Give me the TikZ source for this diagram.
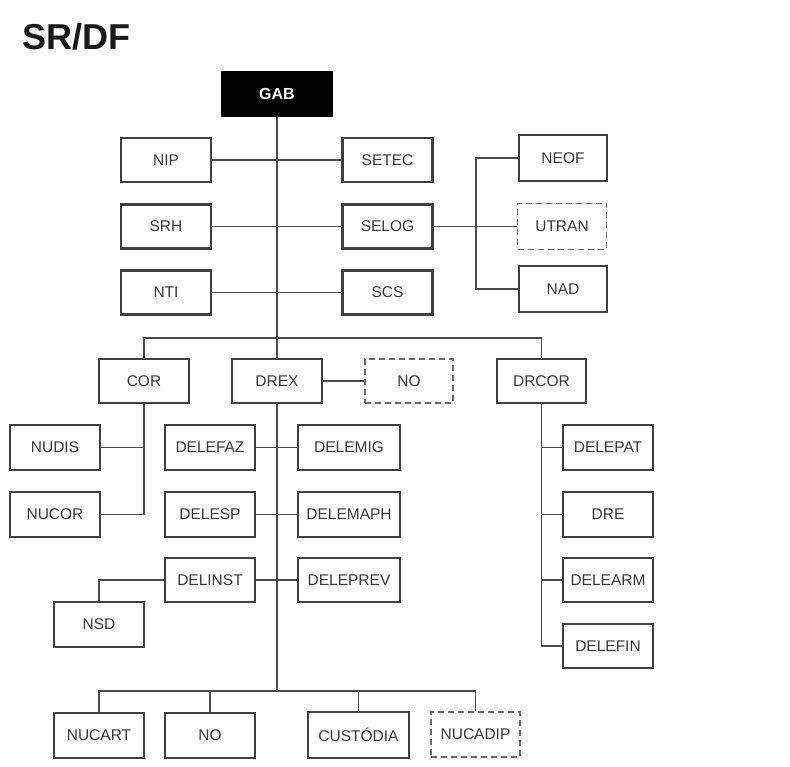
\documentclass[tikz,border=0pt]{standalone}
\usepackage{fontspec}
\setmainfont{Liberation Sans}
\definecolor{boxline}{HTML}{404040}
\definecolor{conn}{HTML}{4A4A4A}
\definecolor{txt}{HTML}{383838}
\definecolor{dashline}{HTML}{6A6A6A}
\begin{document}
\begin{tikzpicture}[x=1pt,y=-1pt,
  box/.style={draw=boxline,line width=2.6pt,fill=white,minimum width=90pt,minimum height=44pt,inner sep=0pt,
    text=txt,font=\fontsize{15.5}{16}\selectfont},
  wbox/.style={box,minimum width=102pt},
  dbox/.style={box,draw=dashline,line width=1.8pt,dash pattern=on 6pt off 4pt},
  topbox/.style={box,fill=black,draw=black,text=white,minimum width=110pt,font=\fontsize{16}{16}\selectfont\bfseries},
  conn/.style={draw=conn,line width=1.7pt}]
\useasboundingbox (0,0) rectangle (790,767);
\fill[white] (0,0) rectangle (790,767);
\node[anchor=base west,inner sep=0pt,text=black!90,font=\fontsize{36}{36}\selectfont\bfseries] (title) at (22,50) {SR/DF};
% nodes
\node[topbox] (gab) at (277,94) {GAB};
\node[box] (nip) at (166,160) {NIP};
\node[box] (setec) at (387.5,160) {SETEC};
\node[box] (srh) at (166,226.5) {SRH};
\node[box] (selog) at (387.5,226.5) {SELOG};
\node[box] (nti) at (166,292.5) {NTI};
\node[box] (scs) at (387.5,292.5) {SCS};
\node[box,minimum width=88pt,minimum height=46pt] (neof) at (563,158) {NEOF};
\node[dbox,minimum width=89pt,minimum height=46pt] (utran) at (562,226.5) {UTRAN};
\node[box,minimum width=88pt,minimum height=46pt] (nad) at (563,289) {NAD};
\node[box] (cor) at (144,381) {COR};
\node[box] (drex) at (277,381) {DREX};
\node[dbox,minimum width=88pt] (no1) at (409,381) {NO};
\node[box,minimum width=89pt] (drcor) at (541.5,381) {DRCOR};
\node[box,minimum height=45pt] (nudis) at (55,447.5) {NUDIS};
\node[box,minimum height=45pt] (nucor) at (55,514.5) {NUCOR};
\node[box,minimum height=45pt] (delefaz) at (210,447.5) {DELEFAZ};
\node[wbox,minimum height=45pt] (delemig) at (349,447.5) {DELEMIG};
\node[box,minimum height=45pt] (delesp) at (210,514.5) {DELESP};
\node[wbox,minimum height=45pt] (delemaph) at (349,514.5) {DELEMAPH};
\node[box] (delinst) at (210,580) {DELINST};
\node[wbox] (deleprev) at (349,580) {DELEPREV};
\node[box,minimum height=45pt] (nsd) at (99,624.5) {NSD};
\node[box,minimum height=45pt] (delepat) at (608,447.5) {DELEPAT};
\node[box,minimum height=45pt] (dre) at (608,514.5) {DRE};
\node[box] (delearm) at (608,580) {DELEARM};
\node[box] (delefin) at (608,646) {DELEFIN};
\node[box,minimum height=45pt] (nucart) at (99,735.5) {NUCART};
\node[box,minimum height=45pt] (no2) at (210,735.5) {NO};
\node[box,minimum width=101pt,minimum height=46pt] (cust) at (358.5,735) {CUSTÓDIA};
\node[dbox,minimum width=89pt,minimum height=45pt] (nucadip) at (475.5,734.5) {NUCADIP};
% helper coordinates
\coordinate (topbar) at (0,338);
\coordinate (rv) at (476,0);
\coordinate (bot) at (277,691);
% connectors
\draw[conn] (gab.south) -- (drex.north);
\draw[conn] (drex.south) -- (bot);
\draw[conn] (nip.east) -- (setec.west);
\draw[conn] (srh.east) -- (selog.west);
\draw[conn] (nti.east) -- (scs.west);
\draw[conn] (selog.east) -- (utran.west);
\draw[conn] (neof.west) -- (neof.west -| rv) -- (nad.west -| rv) -- (nad.west);
\draw[conn] (cor.north) -- (cor.north |- topbar) -- (drcor.north |- topbar) -- (drcor.north);
\draw[conn] (drex.east) -- (no1.west);
\draw[conn] (cor.south) -- (cor.south |- nucor.east) -- (nucor.east);
\draw[conn] (nudis.east) -- (nudis.east -| cor.south);
\draw[conn] (delefaz.east) -- (delemig.west);
\draw[conn] (delesp.east) -- (delemaph.west);
\draw[conn] (delinst.east) -- (deleprev.west);
\draw[conn] (delinst.west) -| (nsd.north);
\draw[conn] (drcor.south) |- (delefin.west);
\draw[conn] (delepat.west) -- (delepat.west -| drcor.south);
\draw[conn] (dre.west) -- (dre.west -| drcor.south);
\draw[conn] (delearm.west) -- (delearm.west -| drcor.south);
\draw[conn] (nucart.north) |- (bot) -| (nucadip.north);
\draw[conn] (no2.north) -- (no2.north |- bot);
\draw[conn] (cust.north) -- (cust.north |- bot);
\end{tikzpicture}
\end{document}
